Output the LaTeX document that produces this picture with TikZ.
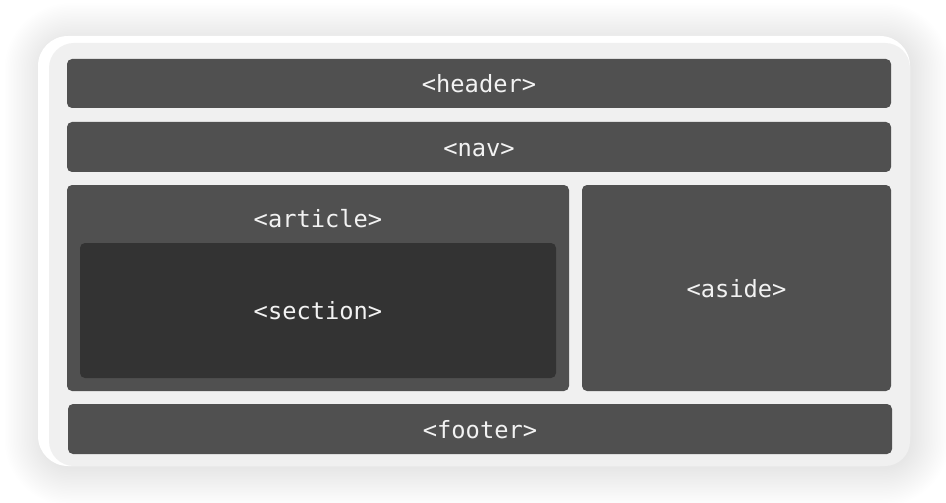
\documentclass[tikz,border=0pt]{standalone}
\usepackage{fontspec}
\setmonofont{DejaVu Sans Mono}

\definecolor{panelgray}{HTML}{F0F0F0}
\definecolor{boxgray}{HTML}{505050}
\definecolor{darkgray}{HTML}{333333}
\definecolor{labelwhite}{HTML}{F2F2F2}

\tikzset{
    box/.style={fill=boxgray, rounded corners=0.1cm, inner sep=0pt, text=labelwhite,
        font=\ttfamily\fontsize{13.5}{16}\selectfont, text height=0.42cm, text depth=0.05cm},
    inner box/.style={box, fill=darkgray},
    tag/.style={text=labelwhite, font=\ttfamily\fontsize{13.5}{16}\selectfont}
}

\begin{document}
\begin{tikzpicture}
    \useasboundingbox[fill=white] (0, 0) rectangle (18.92, 10.04);

    % soft shadow round the card
    \foreach \s in {1,...,24}{
        \pgfmathsetmacro{\e}{0.76 - 0.032*\s}
        \pgfmathsetmacro{\r}{0.6 + \e}
        \fill[black, opacity=0.005, rounded corners=\r cm]
            (0.76 + 0.06 - \e, 0.72 - 0.07 - \e) rectangle (18.2 + 0.06 + \e, 9.32 - 0.07 + \e);
    }

    % white card, grey panel on it
    \fill[white, rounded corners=0.6cm] (0.76, 0.72) rectangle (18.2, 9.32);
    \fill[panelgray, rounded corners=0.5cm] (0.98, 0.72) rectangle (18.2, 9.18);

        \node[box, minimum width=16.48cm, minimum height=0.98cm] (header) at (9.58, 8.37) {<header>};
        \node[box, minimum width=16.48cm, minimum height=1.0cm] (nav) at (9.58, 7.1) {<nav>};

        \node[box, minimum width=10.04cm, minimum height=4.12cm] (article) at (6.36, 4.28) {};
            \node[tag] (articletag) at (6.36, 5.66) {<article>};
            \node[inner box, minimum width=9.52cm, minimum height=2.7cm] (section) at (6.36, 3.83) {<section>};
        \node[box, minimum width=6.18cm, minimum height=4.12cm] (aside) at (14.73, 4.28) {<aside>};

        \node[box, minimum width=16.48cm, minimum height=1.0cm] (footer) at (9.6, 1.46) {<footer>};
\end{tikzpicture}
\end{document}
